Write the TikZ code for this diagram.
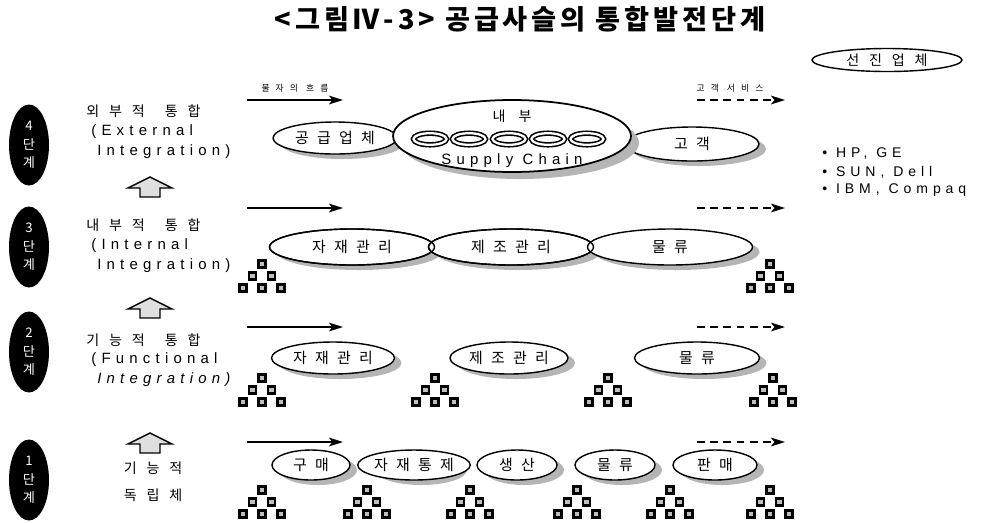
\documentclass[tikz,border=0pt]{standalone}
\usepackage{fontspec}
\setmainfont{Liberation Sans}
\newfontfamily\kr{Noto Sans CJK KR}
\newfontfamily\krw[LetterSpace=70]{Noto Sans CJK KR}
\newfontfamily\kro[LetterSpace=55]{Noto Sans CJK KR}
\newfontfamily\krt[LetterSpace=14]{Noto Sans CJK KR}
\newfontfamily\latw[LetterSpace=35]{Liberation Sans}
\usetikzlibrary{shapes.geometric,arrows.meta}
\tikzset{
  uparr/.pic={\draw[line width=0.8pt, fill=gray!25, line join=miter]
     (-10,0) -- (-10,-9) -- (-22,-9) -- (0,-20) -- (22,-9) -- (10,-9) -- (10,0) -- cycle;},
  pyr/.pic={\foreach \dx/\dy in {0/0,-9.5/12,9.5/12,-19/24,0/24,19/24}
     \draw[sqr] (\dx-3.3,\dy-3.3) rectangle ++(6.6,6.6);},
}
\begin{document}
\begin{tikzpicture}[x=0.02cm,y=-0.02cm,
  stage/.style={ellipse, fill=black, text=white, minimum width=0.8cm, minimum height=1.62cm,
     inner sep=0pt, align=center, font=\kr\fontsize{7.5}{10.5}\selectfont},
  oval/.style={ellipse, draw, line width=0.8pt, fill=white, inner sep=0pt,
     font=\kro\fontsize{8.5}{9}\selectfont},
  shade/.style={fill=gray!58},
  lab/.style={anchor=west, inner sep=0pt, font=\krw\fontsize{8}{9}\selectfont},
  labl/.style={anchor=west, inner sep=0pt, font=\latw\fontsize{8.5}{9}\selectfont},
  flow/.style={line width=0.8pt, -{Stealth[length=8pt,width=5pt,inset=2pt]}},
  dflow/.style={flow, dash pattern=on 4.5pt off 3pt},
  small/.style={font=\krw\fontsize{5}{6}\selectfont, inner sep=0pt},
  sqr/.style={line width=1.4pt, draw=black, fill=gray!50},
  legend/.style={anchor=west, inner sep=0pt, font=\latw\fontsize{8}{9}\selectfont},
]
\useasboundingbox (0,0) rectangle (1000,522);

% title
\node[font=\krt\bfseries\fontsize{15.5}{17}\selectfont, inner sep=0pt] (title) at (520,19)
  {<그림Ⅳ-3> 공급사슬의 통합발전단계};
\node[draw, ellipse, line width=0.8pt, minimum width=3cm, minimum height=0.46cm, inner sep=0pt,
  font=\krw\fontsize{8}{9}\selectfont] (adv) at (887,60) {선진업체};

% legend
\node[legend] (g1) at (822,153) {• HP, GE};
\node[legend] (g2) at (822,172) {• SUN, Dell};
\node[legend] (g3) at (822,190) {• IBM, Compaq};

% stage ovals
\node[stage] (s4) at (29,145) {4\\단\\계};
\node[stage] (s3) at (29,247) {3\\단\\계};
\node[stage] (s2) at (29,352) {2\\단\\계};
\node[stage] (s1) at (29,480) {1\\단\\계};

% stage labels
\node[lab] (l4a) at (86,111) {외부적\hspace{4pt} 통합};
\node[labl] (l4b) at (91,132) {(External};
\node[labl] (l4c) at (97,152) {Integration)};
\node[lab] (l3a) at (86,225) {내부적\hspace{4pt} 통합};
\node[labl] (l3b) at (91,246) {(Internal};
\node[labl] (l3c) at (97,266) {Integration)};
\node[lab] (l2a) at (86,340) {기능적\hspace{4pt} 통합};
\node[labl] (l2b) at (91,360) {(Functional};
\node[labl, font=\latw\itshape\fontsize{8.5}{9}\selectfont] (l2c) at (97,380) {Integration)};
\node[lab, anchor=center] (l1a) at (153,468) {기능적};
\node[lab, anchor=center] (l1b) at (153,495) {독립체};

% up arrows
\pic at (150,197) {uparr};
\pic at (150,318) {uparr};
\pic at (150,453) {uparr};

% flow arrows
\node[small] (t1) at (295,88) {물자의 흐름};
\node[small] (t2) at (730,88) {고객 서비스};
\foreach \r/\yy in {4/100,3/208,2/327,1/442}{
  \coordinate (as\r) at (247,\yy); \coordinate (ae\r) at (343,\yy);
  \coordinate (ds\r) at (697,\yy); \coordinate (de\r) at (785,\yy);
  \draw[flow] (as\r) -- (ae\r);
  \draw[dflow] (ds\r) -- (de\r);
}

% shadows (offset copies)
\foreach \x/\y/\w/\h in {335/138/124/32, 692/144/134/34,
    352/247/165/36, 511/247/165/36, 670/247/165/36,
    333/358/123/32, 509/358/118/32, 697/358/125/32,
    311/465/78/30, 414/465/92/30, 517/465/80/30, 615/465/80/30, 715/465/84/30}
  \fill[shade] (\x+7,\y+5) ellipse [x radius=\w/2, y radius=\h/2];

% row 4
\node[oval, minimum width=2.48cm, minimum height=0.64cm] (r4a) at (335,138) {공급업체};
\node[oval, minimum width=2.68cm, minimum height=0.68cm] (r4c) at (692,144) {고객};
\fill[shade] (520,143) ellipse [x radius=119, y radius=36];
\node[draw, ellipse, fill=white, line width=1pt, minimum width=4.76cm, minimum height=1.44cm] (sc) at (512,136) {};
\node[font=\krw\fontsize{8}{9}\selectfont, inner sep=0pt] (scin) at (512,116) {내 부};
\node[font=\latw\fontsize{8.5}{9}\selectfont, inner sep=0pt] (scn) at (512,161) {Supply Chain};
\foreach \cx in {430,469,509,548,587}
  \draw[line width=0.9pt, double=white, double distance=1.3pt] (\cx,139) ellipse [x radius=16.5, y radius=5.8];

% row 3
\node[oval, minimum width=3.3cm, minimum height=0.72cm] (r3a) at (352,247) {자재관리};
\node[oval, minimum width=3.3cm, minimum height=0.72cm] (r3b) at (511,247) {제조관리};
\node[oval, minimum width=3.3cm, minimum height=0.72cm] (r3c) at (670,247) {물류};
\draw[line width=0.8pt] (r3a.center) ellipse [x radius=82.5, y radius=18];
\draw[line width=0.8pt] (r3b.center) ellipse [x radius=82.5, y radius=18];
\pic at (262,264) {pyr};
\pic at (770,264) {pyr};

% row 2
\node[oval, minimum width=2.46cm, minimum height=0.64cm] (r2a) at (333,358) {자재관리};
\node[oval, minimum width=2.36cm, minimum height=0.64cm] (r2b) at (509,358) {제조관리};
\node[oval, minimum width=2.5cm, minimum height=0.64cm] (r2c) at (697,358) {물류};
\foreach \px in {262,435,608,773} \pic at (\px,378) {pyr};

% row 1
\node[oval, minimum width=1.56cm, minimum height=0.6cm] (r1a) at (311,465) {구매};
\node[oval, minimum width=1.84cm, minimum height=0.6cm] (r1b) at (414,465) {자재통제};
\node[oval, minimum width=1.6cm, minimum height=0.6cm] (r1c) at (517,465) {생산};
\node[oval, minimum width=1.6cm, minimum height=0.6cm] (r1d) at (615,465) {물류};
\node[oval, minimum width=1.68cm, minimum height=0.6cm] (r1e) at (715,465) {판매};
\foreach \px in {262,367,470,577,670,770} \pic at (\px,490) {pyr};
\end{tikzpicture}
\end{document}
